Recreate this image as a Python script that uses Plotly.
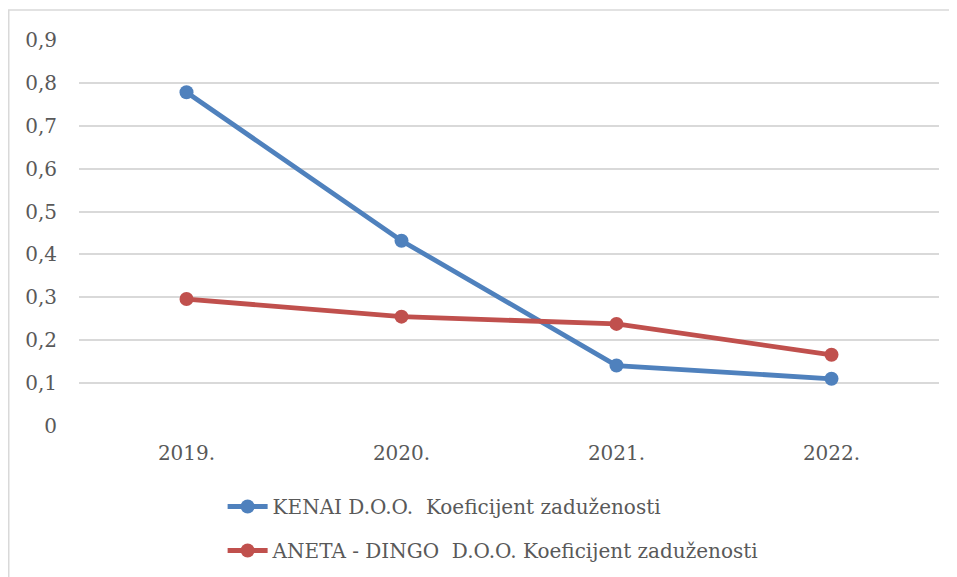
import plotly.graph_objects as go

years = ["2019.", "2020.", "2021.", "2022."]
kenai = [0.778, 0.432, 0.141, 0.110]
aneta = [0.296, 0.255, 0.238, 0.166]
names = ["KENAI D.O.O.\u00a0 Koeficijent zaduženosti",
         "ANETA - DINGO\u00a0 D.O.O. Koeficijent zaduženosti"]
colors = ["#4F81BD", "#C0504D"]

FONT = "DejaVu Serif"

# page has an 8px body margin; compensate in figure margins
L, T = 71, 32
W, H = 860, 386

fig = go.Figure()
for i, (vals, name, col) in enumerate(zip([kenai, aneta], names, colors)):
    fig.add_trace(go.Scatter(
        x=years, y=vals, name=name, mode="lines+markers",
        legendgroup=f"g{i}",
        line=dict(color=col, width=4.8),
        marker=dict(color=col, size=14),
    ))

fig.update_layout(
    width=957, height=577,
    margin=dict(l=L, r=957 - L - W, t=T, b=577 - T - H),
    paper_bgcolor="white", plot_bgcolor="white",
    separators=", ",
    font=dict(family=FONT, size=20, color="#595959"),
    showlegend=True,
    legend=dict(orientation="v", x=0.167, xanchor="left", y=-0.158, yanchor="top",
                font=dict(family=FONT, size=20, color="#595959"),
                itemwidth=40, tracegroupgap=15, bgcolor="rgba(0,0,0,0)"),
    xaxis=dict(type="category", range=[-0.5, 3.5], showgrid=False, showline=False,
               zeroline=False, ticks="", tickfont=dict(size=20), ticklabelstandoff=13),
    yaxis=dict(range=[0, 0.9], dtick=0.1, tick0=0, showgrid=True,
               gridcolor="#D9D9D9", gridwidth=1.5, zeroline=False, showline=False,
               ticks="", tickfont=dict(size=20), ticklabelstandoff=21),
    shapes=[dict(type="rect", xref="paper", yref="paper",
                 x0=(0.75 - L) / W, x1=(980 - L) / W,
                 y0=(T + H - 600) / H, y1=(T + H - 2) / H,
                 line=dict(color="#D9D9D9", width=1.5), fillcolor="rgba(0,0,0,0)",
                 layer="below")],
)

fig.write_html("out.html")
